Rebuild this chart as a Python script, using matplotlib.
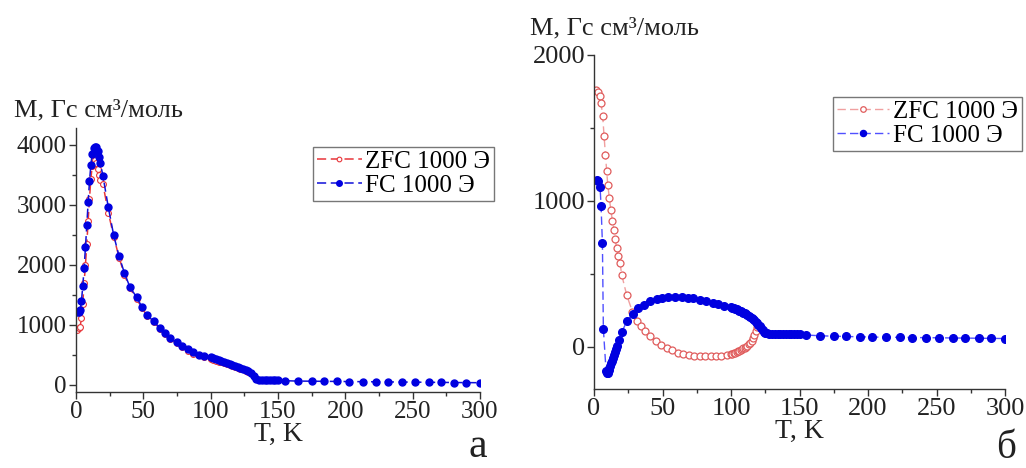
import matplotlib
matplotlib.use("Agg")
import matplotlib.pyplot as plt
from matplotlib.ticker import MultipleLocator

plt.rcParams['font.family'] = ['Liberation Serif', 'DejaVu Serif']

# panel a: ZFC / FC, 1000 Oe
t_zfc_a = [1, 2, 3, 4, 5, 6, 7, 8, 9, 10, 11, 12, 13, 14, 15, 16, 17, 18, 20, 24, 28, 32, 36, 40,
           45, 49, 53, 58, 62, 66, 70, 75, 79, 83, 87, 91, 95, 100, 102, 104, 106, 108, 110, 112,
           114, 116, 118, 120, 122, 124, 126, 128, 130, 132, 134, 136]
m_zfc_a = [920, 940, 960, 1110, 1350, 1700, 2000, 2350, 2730, 3100, 3430, 3640, 3740, 3750, 3700,
           3590, 3500, 3420, 3340, 2870, 2470, 2120, 1830, 1610, 1430, 1280, 1140, 1040, 930, 840,
           760, 690, 630, 570, 520, 490, 460, 430, 415, 400, 385, 372, 358, 345, 330, 315, 300,
           285, 270, 255, 238, 220, 190, 145, 98, 76]

t_fc_a = [1, 2, 3, 4, 5, 6, 7, 8, 9, 10, 11, 12, 13, 14, 15, 16, 17, 18, 20, 24, 28, 32, 36, 40,
          45, 49, 53, 58, 62, 66, 70, 75, 79, 83, 87, 91, 95, 100, 102, 104, 106, 108, 110, 112,
          114, 116, 118, 120, 122, 124, 126, 128, 130, 132, 134, 136, 138, 140, 142, 144, 146,
          148, 150, 155, 165, 175, 184, 194, 203, 213, 223, 232, 242, 252, 262, 271, 281, 290, 300]
m_fc_a = [1205, 1220, 1245, 1390, 1640, 1945, 2290, 2660, 3040, 3390, 3660, 3850, 3950, 3970, 3960,
          3900, 3800, 3700, 3480, 2955, 2490, 2140, 1860, 1630, 1460, 1295, 1155, 1055, 950, 860,
          780, 710, 650, 600, 545, 500, 475, 455, 440, 425, 410, 395, 380, 365, 350, 335, 318,
          300, 285, 268, 250, 230, 200, 150, 100, 78, 75, 75, 74, 74, 73, 73, 72, 68, 62, 60, 58,
          56, 54, 52, 50, 48, 46, 44, 42, 40, 38, 36, 35]

# panel b
t_zfc_b = [1.5, 3, 4.4, 5.1, 6.3, 7.3, 8.3, 9.2, 10, 11.2, 12.2, 13.4, 14.6, 15.3, 16.5, 17.8, 19,
           20.2, 23.8, 28, 31, 34, 37, 41, 45, 49, 53, 57, 61, 65, 69, 73, 77, 81, 85, 89, 93, 97,
           100, 101, 102, 103, 104, 105, 106, 107, 108, 109, 110, 111, 112, 113, 114, 115, 116,
           117, 118, 119, 120]
m_zfc_b = [1757, 1745, 1716, 1670, 1583, 1446, 1316, 1208, 1110, 1018, 938, 865, 801, 737, 675,
           622, 572, 492, 355, 240, 176, 140, 110, 73, 40, 15, -11, -25, -40, -50, -58, -62, -64,
           -64, -64, -63, -61, -57, -50, -47, -44, -40, -36, -32, -27, -22, -18, -12, -6, 0, 8,
           17, 27, 40, 60, 80, 105, 135, 150]

t_fc_b = [2, 3, 4.4, 5.1, 6.1, 6.8, 8.8, 9.5, 10.2, 11, 11.7, 12.5, 13, 13.6, 14.3, 15, 16, 17,
          18.5, 20.2, 23.8, 28.2, 32.4, 36.5, 40.9, 45.7, 49.4, 54.2, 59, 64, 68.6, 72, 77, 81.8,
          86.7, 90.4, 95.2, 100, 101, 102, 103, 104, 105, 106, 107, 108, 109, 110, 111, 112, 113,
          114, 115, 116, 117, 118, 119, 120, 121, 122, 123, 124, 125, 126, 128, 130, 132, 134,
          136, 138, 140, 142, 144, 146, 148, 150, 155, 165, 175, 184, 194, 203, 213, 223, 232,
          242, 252, 262, 271, 281, 290, 300]
m_fc_b = [1144, 1133, 1092, 968, 709, 121, -170, -180, -178, -160, -135, -110, -95, -75, -55,
          -35, -15, 5, 45, 98, 173, 226, 265, 288, 310, 327, 334, 340, 340, 340, 336, 332, 322,
          311, 300, 290, 280, 272, 268, 264, 260, 256, 252, 248, 243, 238, 233, 228, 222, 216,
          210, 203, 196, 188, 180, 171, 162, 152, 140, 126, 112, 101, 95, 92, 90, 89, 88, 88, 87,
          87, 86, 86, 85, 85, 85, 84, 80, 75, 72, 70, 68, 66, 65, 64, 63, 62, 61, 60, 59, 58,
          57, 56]

legend_labels = ['ZFC 1000 Э', 'FC 1000 Э']
ylabel = 'M, Гс см³/моль'
xlabel = 'T, K'

fig = plt.figure(figsize=(10.26, 4.68), dpi=100)


def style_axes(ax, tick_size):
    for side in ['top', 'right']:
        ax.spines[side].set_visible(False)
    for side in ['left', 'bottom']:
        ax.spines[side].set_linewidth(1.0)
        ax.spines[side].set_color('#333333')
    ax.xaxis.set_major_locator(MultipleLocator(50))
    ax.xaxis.set_minor_locator(MultipleLocator(25))
    ax.tick_params(which='major', direction='out', length=5, width=1, labelsize=tick_size,
                   colors='#333333', labelcolor='#222222', pad=1.5)
    ax.tick_params(which='minor', direction='out', length=3, width=1, colors='#333333')
    ax.set_xlabel(xlabel, fontsize=20, color='#222222', labelpad=-1)


def add_legend(ax, x, y, hl):
    leg = ax.legend(loc='upper left', bbox_to_anchor=(x, y), bbox_transform=fig.transFigure,
                    fontsize=18, frameon=True, fancybox=False, edgecolor='#555555',
                    handlelength=hl, handletextpad=0.15, borderpad=0.15, labelspacing=0.05,
                    borderaxespad=0, markerscale=0.8)
    leg.get_frame().set_linewidth(1.0)
    return leg


# ---- panel a
ax1 = fig.add_axes([0.0741, 0.1624, 0.3937, 0.5641])
ax1.plot(t_zfc_a, m_zfc_a, color='#e8363a', lw=1.1, ls=(0, (6, 3)), marker='o', ms=4.2,
         mfc='white', mec='#e8363a', mew=0.8, label=legend_labels[0])
ax1.plot(t_fc_a, m_fc_a, color='#1010d8', lw=1.1, ls=(0, (6, 3)), marker='o', ms=5,
         mfc='#0000e0', mec='#0000e0', label=legend_labels[1])
ax1.set_xlim(0, 300)
ax1.set_ylim(-120, 4280)
ax1.yaxis.set_major_locator(MultipleLocator(1000))
ax1.yaxis.set_minor_locator(MultipleLocator(500))
style_axes(ax1, 18)
add_legend(ax1, 0.305, 0.686, 1.8)

fig.text(0.014, 0.765, ylabel, fontsize=19, ha='left', va='center', color='#222222')
fig.text(0.466, 0.024, 'а', fontsize=30, ha='center', va='baseline', color='#222222')

# ---- panel b
ax2 = fig.add_axes([0.579, 0.1688, 0.4006, 0.7137])
ax2.plot(t_zfc_b, m_zfc_b, color='#f0a0a0', lw=1.0, ls=(0, (6, 3)), marker='o', ms=5,
         mfc='white', mec='#e05c5c', mew=0.9, label=legend_labels[0])
ax2.plot(t_fc_b, m_fc_b, color='#5050ff', lw=1.0, ls=(0, (6, 3)), marker='o', ms=5.5,
         mfc='#0000e0', mec='#0000e0', label=legend_labels[1])
ax2.set_xlim(0, 300)
ax2.set_ylim(-290, 2000)
ax2.yaxis.set_major_locator(MultipleLocator(1000))
ax2.yaxis.set_minor_locator(MultipleLocator(500))
style_axes(ax2, 19)
add_legend(ax2, 0.812, 0.793, 2.1)

fig.text(0.517, 0.94, ylabel, fontsize=19, ha='left', va='center', color='#222222')
fig.text(0.981, 0.022, 'б', fontsize=28, ha='center', va='baseline', color='#222222')

fig.savefig('out.png', dpi=100)
